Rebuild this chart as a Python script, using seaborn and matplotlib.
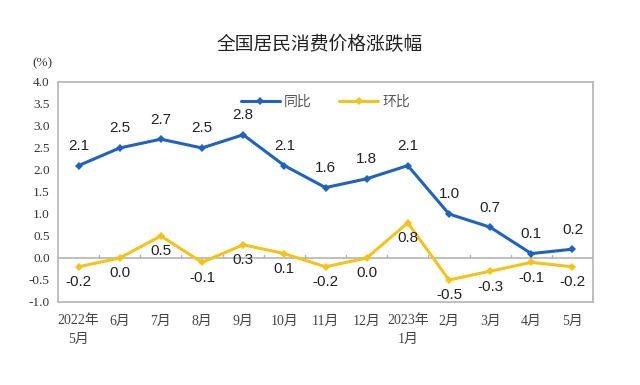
import numpy as np
import pandas as pd
import seaborn as sns
from matplotlib import pyplot as plt

months = ["2022年\n5月", "6月", "7月", "8月", "9月", "10月", "11月", "12月",
          "2023年\n1月", "2月", "3月", "4月", "5月"]
yoy = [2.1, 2.5, 2.7, 2.5, 2.8, 2.1, 1.6, 1.8, 2.1, 1.0, 0.7, 0.1, 0.2]
mom = [-0.2, 0.0, 0.5, -0.1, 0.3, 0.1, -0.2, 0.0, 0.8, -0.5, -0.3, -0.1, -0.2]

blue = "#1f62c0"
yellow = "#f2c31b"
gray = "#b4b4b4"

sns.set_style("white")
plt.rcParams['font.family'] = ['Noto Sans CJK SC', 'DejaVu Sans']

df = pd.DataFrame({"x": np.arange(len(months)), "同比": yoy, "环比": mom})
long = df.melt(id_vars="x", var_name="series", value_name="value")

fig = plt.figure(figsize=(6.4, 3.85), dpi=100)
ax = fig.add_axes([0.0906, 0.2156, 0.836, 0.5715])

ax.axhline(0, color=gray, lw=1.2, zorder=1)
for xb in np.arange(0.5, len(months) - 1, 1):
    ax.plot([xb, xb], [0, 0.07], color=gray, lw=1, zorder=1)

sns.lineplot(data=long, x="x", y="value", hue="series",
             palette={"同比": blue, "环比": yellow}, marker="D",
             markersize=4.5, markeredgewidth=0, linewidth=2.2, ax=ax, zorder=3)

lab_font = ['Liberation Sans', 'Noto Sans CJK SC']
for i, v in enumerate(yoy):
    ax.annotate(f"{v:.1f}", (i, v), xytext=(0, 9), textcoords="offset points",
                ha="center", va="bottom", fontsize=11, family=lab_font, color="#222222")
for i, v in enumerate(mom):
    ax.annotate(f"{v:.1f}", (i, v), xytext=(0, -6), textcoords="offset points",
                ha="center", va="top", fontsize=11, family=lab_font, color="#222222")

ax.set_xlim(-0.5, len(months) - 0.5)
ax.set_ylim(-1.0, 4.0)
ax.set_yticks(np.arange(-1.0, 4.01, 0.5))
ax.set_yticklabels([f"{t:.1f}" for t in np.arange(-1.0, 4.01, 0.5)],
                   family=['Liberation Serif', 'Noto Sans CJK SC'], fontsize=9.5, color="#333333")
ax.set_xticks(np.arange(len(months)))
ax.set_xticklabels(months, family=['Liberation Serif', 'Noto Sans CJK SC'],
                   fontsize=10, color="#444444", linespacing=1.5)
ax.tick_params(axis="y", length=0, pad=6)
ax.tick_params(axis="x", length=0, pad=9)
ax.set_xlabel("")
ax.set_ylabel("")

for s in ax.spines.values():
    s.set_color(gray)
    s.set_linewidth(1.2)

leg = ax.legend(loc="upper center", bbox_to_anchor=(0.5, 1.0), ncol=2, frameon=False,
                fontsize=10, handlelength=2.8, columnspacing=2.0, handletextpad=0.3)
for t in leg.get_texts():
    t.set_color("#555555")

fig.text(0.5, 0.885, "全国居民消费价格涨跌幅", ha="center", va="center", fontsize=13.5, color="#222222")
fig.text(0.05, 0.835, "(%)", ha="left", va="center", fontsize=9.5,
         family=['Liberation Serif', 'Noto Sans CJK SC'], color="#333333")

fig.savefig("out.png", dpi=100, facecolor="white")
